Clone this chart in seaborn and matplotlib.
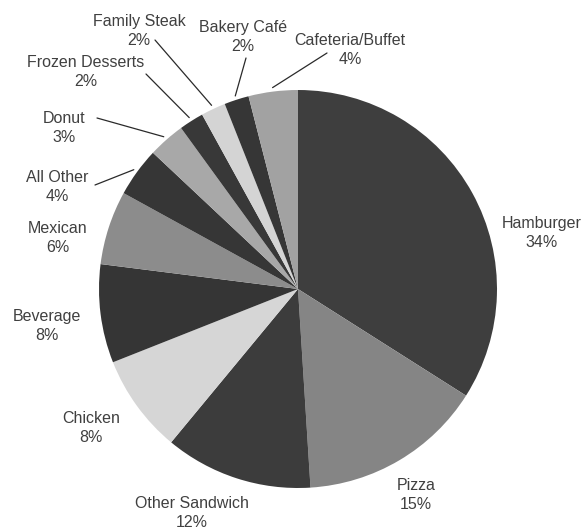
import matplotlib
matplotlib.use("Agg")
import matplotlib.pyplot as plt
import numpy as np
import seaborn as sns

# ---- data ----
categories = ["Hamburger", "Pizza", "Other Sandwich", "Chicken", "Beverage", "Mexican",
              "All Other", "Donut", "Frozen Desserts", "Family Steak", "Bakery Café",
              "Cafeteria/Buffet"]
shares = [34, 15, 12, 8, 8, 6, 4, 3, 2, 2, 2, 4]
pct_labels = [f"{v}%" for v in shares]

# ---- style ----
sns.set_theme(style="white")
plt.rcParams["font.family"] = ["Liberation Sans", "DejaVu Sans"]

colors = ["#3e3e3e", "#858585", "#3c3c3c", "#d6d6d6", "#353535", "#8c8c8c",
          "#363636", "#a8a8a8", "#383838", "#d4d4d4", "#363636", "#a2a2a2"]

W, H = 584, 531
CX, CY, R = 298, 289, 199  # pie centre / radius in pixels (layout)

fig = plt.figure(figsize=(W / 100, H / 100), dpi=100)
fig.patch.set_facecolor("white")
ax = fig.add_axes([(CX - R) / W, (H - CY - R) / H, 2 * R / W, 2 * R / H])

wedges, _ = ax.pie(shares, colors=colors, startangle=90, counterclock=False,
                   radius=1.0, center=(0, 0), frame=False,
                   wedgeprops=dict(linewidth=0))
ax.set_xlim(-1, 1)
ax.set_ylim(-1, 1)
ax.set_aspect("equal")
ax.axis("off")

def px(x, y):
    return ((x - CX) / R, (CY - y) / R)

# label block centres (pixels) and optional leader-line start (pixels)
label_pos = {
    "Hamburger": (542, 233),
    "Pizza": (416, 495),
    "Other Sandwich": (192, 513),
    "Chicken": (91, 428),
    "Beverage": (47, 326),
    "Mexican": (58, 238),
    "All Other": (57, 187),
    "Donut": (64, 128),
    "Frozen Desserts": (86, 72),
    "Family Steak": (139, 31),
    "Bakery Café": (243, 37),
    "Cafeteria/Buffet": (350, 50),
}
leader_start = {
    "All Other": (95, 185),
    "Donut": (97, 118),
    "Frozen Desserts": (146, 74),
    "Family Steak": (155, 40),
    "Bakery Café": (246, 58),
    "Cafeteria/Buffet": (327, 53),
}

txt_color = "#404040"
for w, cat, pl in zip(wedges, categories, pct_labels):
    lx, ly = px(*label_pos[cat])
    ax.text(lx, ly, f"{cat}\n{pl}", ha="center", va="center", fontsize=11.5,
            color=txt_color, linespacing=1.38, clip_on=False)
    if cat in leader_start:
        mid = np.deg2rad((w.theta1 + w.theta2) / 2)
        ex, ey = 1.02 * np.cos(mid), 1.02 * np.sin(mid)
        sx, sy = px(*leader_start[cat])
        ax.plot([sx, ex], [sy, ey], color="#2a2a2a", lw=0.9, clip_on=False)

fig.savefig("out.png", dpi=100, facecolor="white")
